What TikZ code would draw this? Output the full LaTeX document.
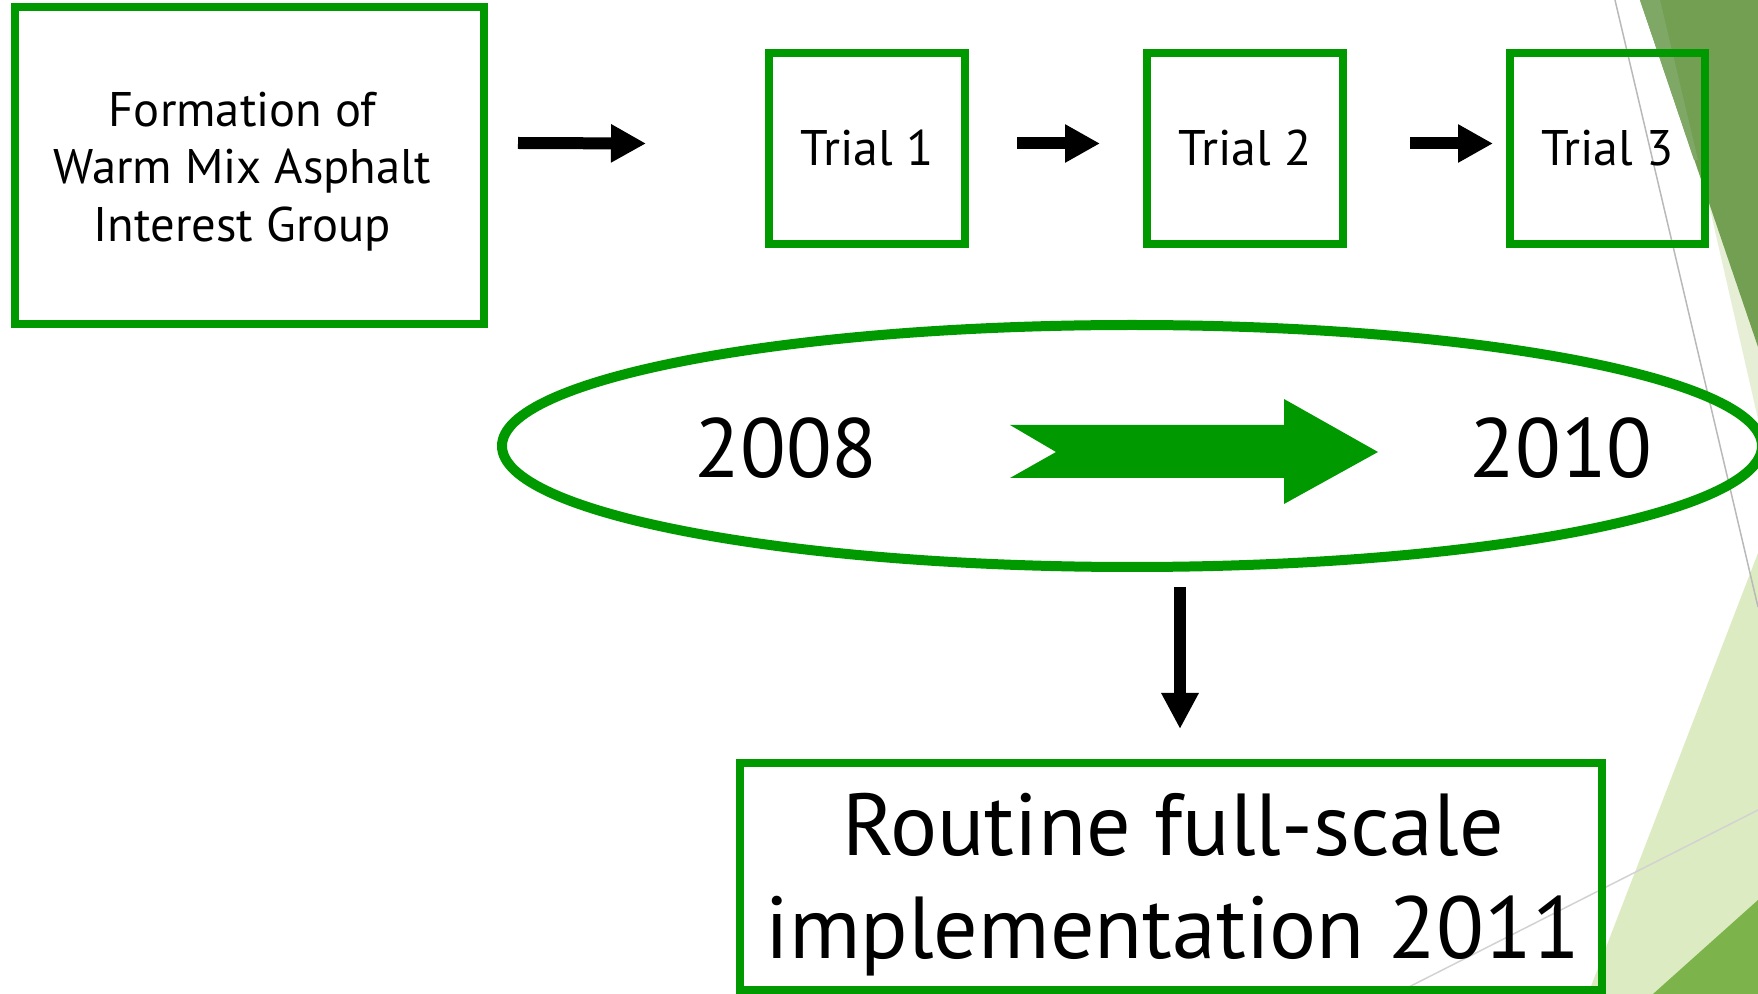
\documentclass[tikz,border=0pt]{standalone}
\usepackage{fontspec}
\setmainfont{PT Sans}
\usetikzlibrary{arrows.meta,shapes.geometric,calc}
\definecolor{grn}{HTML}{009900}
\definecolor{darkdeco}{HTML}{739F52}
\definecolor{stripedeco}{HTML}{7FA866}
\definecolor{lightdeco}{HTML}{E6EFD6}
\definecolor{paledeco}{HTML}{DDEBC2}
\definecolor{cornerdeco}{HTML}{7CB34B}
\tikzset{
  gbox/.style={draw=grn, line width=4pt, inner sep=0pt, align=center},
  blk/.style={line width=6pt, -{Triangle[length=17.5pt,width=18pt]}},
}
\begin{document}
\begin{tikzpicture}[x=0.5pt,y=-0.5pt]
\useasboundingbox (0,0) rectangle (1758,994);
\begin{scope}
\clip (0,0) rectangle (1758,994);
% decoration
\fill[lightdeco] (1685,100) -- (1758,100) -- (1758,419) -- cycle;
\fill[darkdeco] (1640,0) -- (1758,0) -- (1758,347) -- cycle;
\fill[stripedeco] (1640,0) -- (1660,0) -- (1698,160) -- (1694,160) -- cycle;
\fill[paledeco] (1758,553) -- (1588,994) -- (1758,994) -- cycle;
\fill[cornerdeco] (1653,994) -- (1758,900) -- (1758,994) -- cycle;
\draw[gray!55, line width=0.75pt] (1615,0) -- (1758,607);
\draw[gray!35, line width=0.75pt] (1395,994) -- (1758,810);

% boxes
\node[gbox, minimum width=234.5pt, minimum height=158.5pt] (form) at (249.5,165.5) {};
\node[align=center, font=\fontsize{24.3}{28.9}\selectfont] (formtxt)
  at ($(form.center)+(-7,6)$) {Formation of\\Warm Mix Asphalt\\Interest Group};
\node[gbox, minimum width=98pt, minimum height=95.5pt,
      font=\fontsize{25}{30}\selectfont] (t1) at (867,148.5) {Trial 1};
\node[gbox, minimum width=98pt, minimum height=95.5pt,
      font=\fontsize{25}{30}\selectfont] (t2) at (1245,148.5) {Trial 2};
\node[gbox, minimum width=97.5pt, minimum height=95.5pt,
      font=\fontsize{25}{30}\selectfont] (t3) at (1607.5,148.5) {Trial 3};

\draw[blk] ($(form.east)+(30,-22.5)$) -- ($(t1.west)+(-119,-5)$);
\draw[blk] ($(t1.east)+(48,-5)$) -- ($(t2.west)+(-43,-5)$);
\draw[blk] ($(t2.east)+(63,-5)$) -- ($(t3.west)+(-13,-5)$);

% ellipse
\node[ellipse, draw=grn, line width=5pt, minimum width=630pt,
      minimum height=121pt, inner sep=0pt] (ell) at (1132,446) {};
\node[font=\fontsize{42}{50}\selectfont] (y1) at (786,448) {2008};
\node[font=\fontsize{42}{50}\selectfont] (y2) at (1561,448) {2010};
\fill[grn] (1010,425) -- (1284,425) -- (1284,399) -- (1378,452)
  -- (1284,504) -- (1284,478) -- (1010,478) -- (1056,452) -- cycle;

% bottom box
\node[gbox, minimum width=431.25pt, minimum height=113.5pt] (rt) at (1171,876.5) {};
\node[align=center, font=\fontsize{44}{51.5}\selectfont] (rttxt)
  at ($(rt.center)+(2,8)$) {Routine full-scale\\implementation 2011};
\draw[line width=6pt, -{Triangle[length=18pt,width=17.5pt]}]
  ($(ell.south)+(48,15)$) -- ($(rt.north)+(9,-30)$);
\end{scope}
\end{tikzpicture}
\end{document}
